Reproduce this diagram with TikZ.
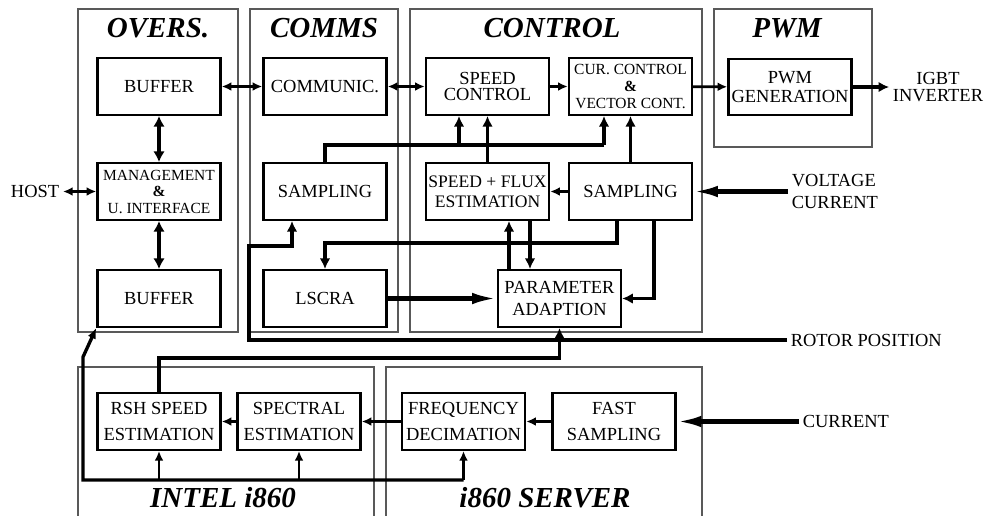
\documentclass[tikz,border=0pt]{standalone}
\usepackage{fontspec}
\setmainfont{Liberation Serif}
\usepackage{tikz}
\usetikzlibrary{arrows.meta,calc}

\begin{document}
\begin{tikzpicture}[x=0.02cm,y=-0.02cm,
  blk/.style={draw,line width=1.4pt,minimum width=2.46cm,minimum height=1.13cm,align=center,inner sep=1pt,font=\fontsize{10.5}{11}\selectfont},
  pnl/.style={draw=black!65,line width=0.6pt},
  ttl/.style={font=\fontsize{16.5}{18}\selectfont\bfseries\itshape},
  lab/.style={font=\fontsize{10.5}{12.5}\selectfont,align=left,inner sep=2pt},
  arr/.style={-{Latex[length=5.5pt,width=5pt]},line width=1.3pt},
  darr/.style={{Latex[length=5.5pt,width=5pt]}-{Latex[length=5.5pt,width=5pt]},line width=1.3pt},
  thk/.style={line width=1.9pt},
  tarr/.style={-{Latex[length=6pt,width=6pt]},line width=1.9pt},
  tdarr/.style={{Latex[length=6pt,width=6.5pt]}-{Latex[length=6pt,width=6.5pt]},line width=1.9pt},
  larr/.style={-{Latex[length=14pt,width=6.5pt]},line width=2.3pt}]
\useasboundingbox (0,0) rectangle (992,515);
\draw[pnl] (78,9) rectangle (238,332);
\draw[pnl] (250,9) rectangle (398,332);
\draw[pnl] (410,9) rectangle (702,332);
\draw[pnl] (714,9) rectangle (872,147);
\draw[pnl] (78,520) |- (374,367) -- (374,520);
\draw[pnl] (386,520) |- (702,367) -- (702,520);
\node[ttl] (tovr) at (158,28) {OVERS.};
\node[ttl] (tcom) at (324,28) {COMMS};
\node[ttl] (tctl) at (552,28) {CONTROL};
\node[ttl] (tpwm) at (787,28) {PWM};
\node[ttl] (tint) at (223,498) {INTEL i860};
\node[ttl] (tsrv) at (545,498) {i860 SERVER};
\node[blk] (buf1) at (159,86.5) {BUFFER};
\node[blk,font=\fontsize{8.8}{9.4}\selectfont] (mgmt) at (159,191.5) {MANAGEMENT\\\textbf{\&}\\U. INTERFACE};
\node[blk] (buf2) at (159,298.5) {BUFFER};
\node[blk] (comm) at (325,86.5) {COMMUNIC.};
\node[blk] (samp1) at (325,191.5) {SAMPLING};
\node[blk] (lscra) at (325,298.5) {LSCRA};
\node[blk,font=\fontsize{10.5}{9.6}\selectfont] (spdc) at (487.5,86.5) {SPEED\\CONTROL};
\node[blk,font=\fontsize{8.8}{9.4}\selectfont] (curc) at (630.5,86.5) {CUR. CONTROL\\\textbf{\&}\\VECTOR CONT.};
\node[blk,font=\fontsize{10}{11.5}\selectfont] (sfe) at (487.5,191.5) {SPEED + FLUX\\ESTIMATION};
\node[blk] (samp2) at (630.5,191.5) {SAMPLING};
\node[blk,font=\fontsize{10.5}{12}\selectfont] (para) at (559.5,298.5) {PARAMETER\\ADAPTION};
\node[blk,font=\fontsize{10.5}{10.8}\selectfont] (pwmg) at (790,87) {PWM\\GENERATION};
\node[blk,font=\fontsize{10.5}{14.5}\selectfont] (rsh) at (159,421.5) {RSH SPEED\\ESTIMATION};
\node[blk,font=\fontsize{10.5}{14.5}\selectfont] (spec) at (299,421.5) {SPECTRAL\\ESTIMATION};
\node[blk,font=\fontsize{10.5}{14.5}\selectfont] (freq) at (463.5,421.5) {FREQUENCY\\DECIMATION};
\node[blk,font=\fontsize{10.5}{14.5}\selectfont] (fast) at (614,421.5) {FAST\\SAMPLING};
\node[lab,anchor=east] (host) at (63,191.5) {HOST};
\node[lab,align=center,font=\fontsize{10.5}{10}\selectfont] (igbt) at (938,87) {IGBT\\INVERTER};
\node[lab,anchor=west] (volt) at (788,191.5) {VOLTAGE\\CURRENT};
\node[lab,anchor=west] (rotor) at (787,340) {ROTOR POSITION};
\node[lab,anchor=west] (curr) at (799,421.5) {CURRENT};
\draw[darr] (buf1) -- (comm);
\draw[darr] (comm) -- (spdc);
\draw[arr] (spdc) -- (curc);
\draw[arr,line width=1.5pt] (curc) -- (pwmg);
\draw[tarr,line width=2.3pt] (pwmg) -- (igbt);
\draw[tdarr] (buf1) -- (mgmt);
\draw[tdarr] (mgmt) -- (buf2);
\draw[darr] (host) -- (mgmt);
\coordinate (k1) at (604,145);
\coordinate (k2) at (459,145);
\draw[thk] (samp1.north) |- (k1);
\draw[tarr] (k1) -- (k1 |- curc.south);
\draw[tarr] (k2) -- (k2 |- spdc.south);
\draw[tarr] (sfe) -- (spdc);
\draw[tarr] (samp2) -- (curc);
\draw[arr] (samp2) -- (sfe);
\draw[larr] (volt) -- (samp2);
\coordinate (k3) at (617,243);
\coordinate (k4) at (654,299);
\draw[tarr] (samp2.south -| k3) -- (k3) -| (lscra.north);
\draw[tarr] (samp2.south -| k4) |- (para.east);
\draw[tarr] (para.north -| 509,0) -- (sfe.south -| 509,0);
\draw[tarr] (sfe.south -| 530,0) -- (para.north -| 530,0);
\draw[larr] (lscra) -- (para);
\coordinate (r1) at (249,340);
\coordinate (r2) at (292,246);
\draw[tarr,line width=2.3pt] (rotor.west) -- (r1) |- (r2) -- (r2 |- samp1.south);
\draw[tarr] (rsh.north) |- ($(para.south)+(0,30)$) -- (para.south);
\coordinate (b0) at (83,357);
\coordinate (b1) at (83,480);
\draw[thk,{Latex[length=6pt,width=5pt]}-] (buf2.south west) -- (b0) -- (b1) -- (b1 -| freq.south);
\draw[arr] (b1 -| rsh.south) -- (rsh.south);
\draw[arr] (b1 -| spec.south) -- (spec.south);
\draw[arr] (b1 -| freq.south) -- (freq.south);
\draw[arr] (spec) -- (rsh);
\draw[arr] (freq) -- (spec);
\draw[arr] (fast) -- (freq);
\draw[larr] (curr) -- (fast);
\end{tikzpicture}
\end{document}
